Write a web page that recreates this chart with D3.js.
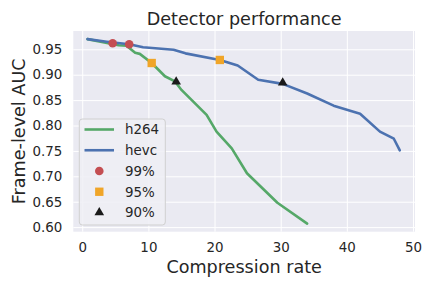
<!DOCTYPE html>
<html>
<head>
<meta charset="utf-8">
<script src="https://cdn.jsdelivr.net/npm/d3@7"></script>
<style>
html,body{margin:0;padding:0;background:#fff;}
svg{display:block;font-family:"DejaVu Sans",sans-serif;}
</style>
</head>
<body>
<svg id="chart" width="432" height="288"></svg>
<script>
const h264X = [0.8, 5.5, 6.7, 8.0, 8.7, 10.5, 12.5, 14.0, 15.0, 18.8, 20.3, 22.6, 24.9, 29.5, 34.0];
const h264Y = [0.970, 0.958, 0.957, 0.943, 0.941, 0.923, 0.897, 0.887, 0.870, 0.821, 0.788, 0.755, 0.706, 0.648, 0.607];
const hevcX = [0.8, 3.7, 7.1, 9.2, 13.8, 15.6, 20.8, 23.5, 26.6, 30.3, 34.0, 38.0, 42.0, 45.0, 47.1, 48.0];
const hevcY = [0.970, 0.965, 0.960, 0.954, 0.949, 0.942, 0.929, 0.918, 0.890, 0.882, 0.863, 0.839, 0.823, 0.788, 0.774, 0.751];
const m99X = [4.6, 7.1], m99Y = [0.962, 0.960];
const m95X = [10.5, 20.8], m95Y = [0.923, 0.929];
const m90X = [14.2, 30.3], m90Y = [0.886, 0.884];
const xTicks = [0, 10, 20, 30, 40, 50];
const yTicks = [0.60, 0.65, 0.70, 0.75, 0.80, 0.85, 0.90, 0.95];
const legendLabels = ["h264", "hevc", "99%", "95%", "90%"];

const svg = d3.select("#chart");
const L = 73.3, R = 415, T = 31, B = 231.7;
const x = d3.scaleLinear().domain([-1.35, 50.3]).range([L, R]);
const y = d3.scaleLinear().domain([0.591, 0.986]).range([B, T]);
const textColor = "#262626";

svg.append("rect").attr("x", L).attr("y", T).attr("width", R - L).attr("height", B - T).attr("fill", "#eaeaf2");

// grid
const gx = svg.append("g").attr("transform", `translate(0,${B})`)
  .call(d3.axisBottom(x).tickValues(xTicks).tickSize(-(B - T)).tickPadding(11).tickFormat(d3.format("d")));
const gy = svg.append("g").attr("transform", `translate(${L},0)`)
  .call(d3.axisLeft(y).tickValues(yTicks).tickSize(-(R - L)).tickPadding(11).tickFormat(d3.format(".2f")));
[gx, gy].forEach(g => {
  g.select(".domain").remove();
  g.selectAll(".tick line").attr("stroke", "#ffffff").attr("stroke-width", 1);
  g.selectAll(".tick text").attr("fill", textColor).attr("font-size", "13.4px").attr("font-family", "DejaVu Sans");
});

const line = d3.line().x(d => x(d[0])).y(d => y(d[1]));
svg.append("path").datum(h264X.map((v, i) => [v, h264Y[i]]))
  .attr("d", line).attr("fill", "none").attr("stroke", "#55a868").attr("stroke-width", 2.6).attr("stroke-linejoin", "round").attr("stroke-linecap", "round");
svg.append("path").datum(hevcX.map((v, i) => [v, hevcY[i]]))
  .attr("d", line).attr("fill", "none").attr("stroke", "#4c72b0").attr("stroke-width", 2.6).attr("stroke-linejoin", "round").attr("stroke-linecap", "round");

const circ = d3.symbol().type(d3.symbolCircle).size(58)();
const sq = d3.symbol().type(d3.symbolSquare).size(70)();
const tri = d3.symbol().type(d3.symbolTriangle).size(40)();
function marks(xs, ys, path, color) {
  svg.append("g").selectAll("path").data(xs.map((v, i) => [v, ys[i]])).join("path")
    .attr("d", path).attr("transform", d => `translate(${x(d[0])},${y(d[1])})`).attr("fill", color);
}
marks(m99X, m99Y, circ, "#c44e52");
marks(m95X, m95Y, sq, "#f0a528");
marks(m90X, m90Y, tri, "#1a1a1a");

// title and labels
svg.append("text").attr("x", (L + R) / 2).attr("y", 25).attr("text-anchor", "middle")
  .attr("font-size", "17.6px").attr("fill", textColor).text("Detector performance");
svg.append("text").attr("x", (L + R) / 2).attr("y", 272.7).attr("text-anchor", "middle")
  .attr("font-size", "17.6px").attr("fill", textColor).text("Compression rate");
svg.append("text").attr("transform", `translate(25,${(T + B) / 2}) rotate(-90)`).attr("text-anchor", "middle")
  .attr("font-size", "17.6px").attr("fill", textColor).text("Frame-level AUC");

// legend
const lg = svg.append("g");
lg.append("rect").attr("x", 79.3).attr("y", 119).attr("width", 86).attr("height", 106).attr("rx", 3)
  .attr("fill", "#eeeef5").attr("fill-opacity", 0.85).attr("stroke", "#d0d0d0").attr("stroke-width", 1);
const rowY = d3.scaleLinear().domain([0, 4]).range([129.5, 212.5]);
const lx0 = 84.5, lx1 = 114, lmid = 99.3, ltx = 125;
const legItems = [
  {type: "line", color: "#55a868"},
  {type: "line", color: "#4c72b0"},
  {type: "mark", path: circ, color: "#c44e52"},
  {type: "mark", path: sq, color: "#f0a528"},
  {type: "mark", path: tri, color: "#1a1a1a"}
];
legItems.forEach((it, i) => {
  const yy = rowY(i);
  if (it.type === "line") {
    lg.append("line").attr("x1", lx0).attr("x2", lx1).attr("y1", yy).attr("y2", yy)
      .attr("stroke", it.color).attr("stroke-width", 2.6);
  } else {
    lg.append("path").attr("d", it.path).attr("transform", `translate(${lmid},${yy})`).attr("fill", it.color);
  }
  lg.append("text").attr("x", ltx).attr("y", yy).attr("dy", "0.36em").attr("font-size", "13.4px")
    .attr("fill", textColor).text(legendLabels[i]);
});
</script>
</body>
</html>
